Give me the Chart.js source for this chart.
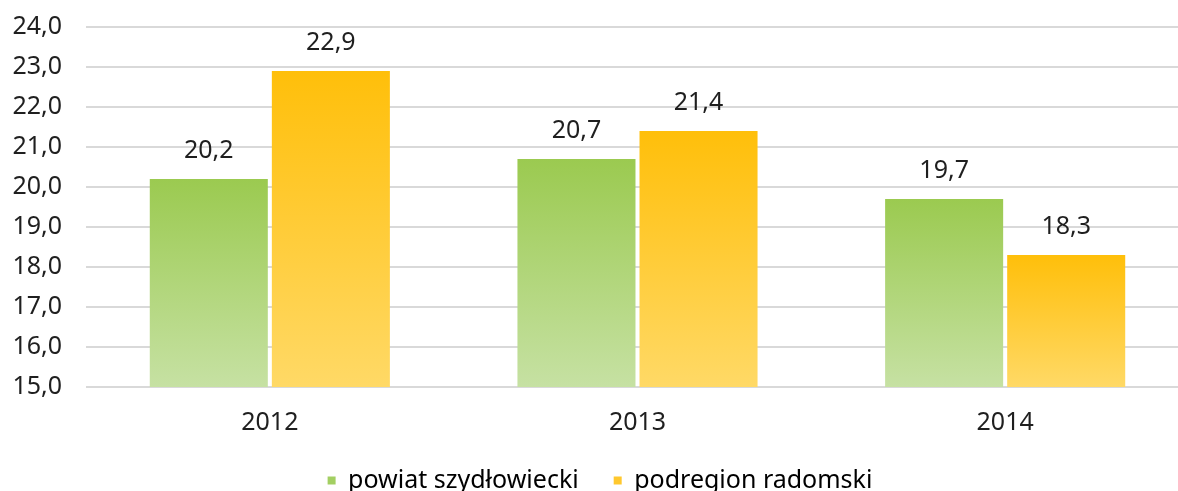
<!DOCTYPE html>
<html>
<head>
<meta charset="utf-8">
<script src="https://cdn.jsdelivr.net/npm/chart.js@4"></script>
<style>
  html, body { margin: 0; padding: 0; background: #fff; overflow: hidden; }
  #wrap { width: 1210px; height: 560px; margin-top: -12px; }
</style>
</head>
<body>
<div id="wrap"><canvas id="chart" width="1210" height="560"></canvas></div>
<script>
const years = ['2012', '2013', '2014'];
const powiatValues = [20.2, 20.7, 19.7];
const podregionValues = [22.9, 21.4, 18.3];
const seriesNames = ['powiat szydłowiecki', 'podregion radomski'];
const yMin = 15, yMax = 24, yStep = 1;

const FONT = "'Noto Sans', 'DejaVu Sans', sans-serif";
const TEXT = '#1f1f1f';

// vertical gradient per bar, darker at the top
function barGradient(top, bottom) {
    return (ctx) => {
        const chart = ctx.chart;
        const y = chart.scales.y;
        if (!y || ctx.parsed === undefined || !chart.chartArea) return top;
        const y0 = y.getPixelForValue(ctx.parsed.y);
        const y1 = y.getPixelForValue(yMin);
        const g = chart.ctx.createLinearGradient(0, y0, 0, y1);
        g.addColorStop(0, top);
        g.addColorStop(1, bottom);
        return g;
    };
}

const valueLabels = {
    id: 'valueLabels',
    afterDatasetsDraw(chart) {
        const c = chart.ctx;
        c.save();
        c.font = '25px ' + FONT;
        c.fillStyle = TEXT;
        c.textAlign = 'center';
        c.textBaseline = 'middle';
        chart.data.datasets.forEach((ds, i) => {
            chart.getDatasetMeta(i).data.forEach((bar, j) => {
                c.fillText(ds.data[j].toFixed(1).replace('.', ','), bar.x, bar.y - 28);
            });
        });
        c.restore();
    }
};

new Chart(document.getElementById('chart'), {
    type: 'bar',
    data: {
        labels: years,
        datasets: [{
            label: seriesNames[0],
            data: powiatValues,
            backgroundColor: barGradient('#9bca50', '#c6e1a3'),
            categoryPercentage: 0.664,
            barPercentage: 0.967
        }, {
            label: seriesNames[1],
            data: podregionValues,
            backgroundColor: barGradient('#ffbf0a', '#ffd966'),
            categoryPercentage: 0.664,
            barPercentage: 0.967
        }]
    },
    options: {
        responsive: false,
        animation: false,
        layout: { padding: { top: 14, left: 11, right: 21, bottom: 45 } },
        plugins: {
            tooltip: { enabled: false },
            legend: {
                position: 'bottom',
                labels: {
                    color: TEXT,
                    font: { family: FONT, size: 25 },
                    boxWidth: 8,
                    boxHeight: 8,
                    padding: 35,
                    generateLabels(chart) {
                        return chart.data.datasets.map((ds, i) => ({
                            text: ds.label,
                            fillStyle: i === 0 ? '#a3cf62' : '#ffc82e',
                            strokeStyle: 'rgba(0,0,0,0)',
                            lineWidth: 0,
                            datasetIndex: i
                        }));
                    }
                }
            }
        },
        scales: {
            x: {
                grid: { display: false, drawTicks: false },
                border: { display: false },
                ticks: { color: TEXT, font: { family: FONT, size: 25 }, padding: 21 },
                afterFit(scale) { scale.height = 46; }
            },
            y: {
                min: yMin,
                max: yMax,
                ticks: {
                    stepSize: yStep,
                    color: TEXT,
                    font: { family: FONT, size: 25 },
                    padding: 24,
                    callback: (v) => v.toFixed(1).replace('.', ',')
                },
                grid: { color: '#d9d9d9', lineWidth: 2, drawTicks: false },
                border: { display: false },
                afterFit(scale) { scale.width = 75; }
            }
        }
    },
    plugins: [valueLabels]
});
</script>
</body>
</html>
